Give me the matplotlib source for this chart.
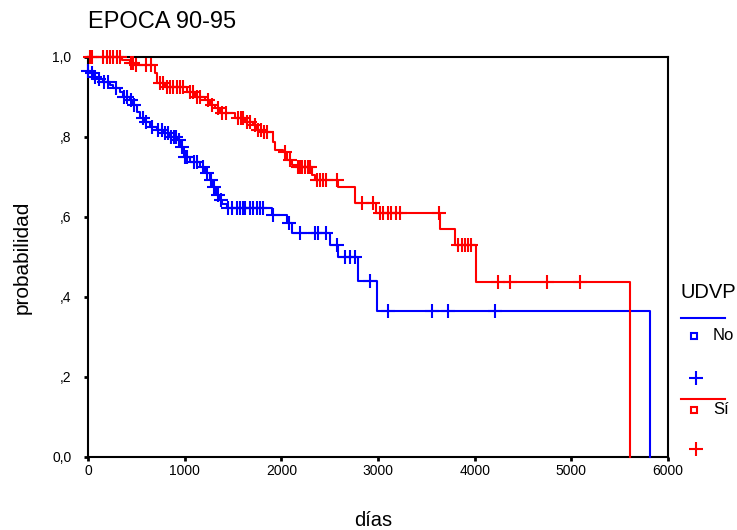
import numpy as np
import matplotlib
matplotlib.use("Agg")
import matplotlib.pyplot as plt
from matplotlib.lines import Line2D

plt.rcParams['font.family'] = ['Liberation Sans', 'DejaVu Sans']

# --- datos (Kaplan-Meier, UDVP) ---
# No (azul): tiempos de evento y supervivencia tras cada escalon
no_t = [0, 21, 52, 93, 155, 228, 259, 331, 362, 434, 466, 507, 538, 590, 641,
        714, 776, 848, 921, 952, 993, 1055, 1159, 1210, 1262, 1293, 1324, 1355,
        1386, 1438, 1903, 2059, 2110, 2503, 2586, 2793, 2990, 5814]
no_s = [0.965, 0.96, 0.95, 0.945, 0.9375, 0.93, 0.9225, 0.9125, 0.90, 0.8925,
        0.88, 0.8625, 0.8475, 0.8375, 0.825, 0.8175, 0.81, 0.80, 0.7925, 0.775,
        0.75, 0.7375, 0.725, 0.71, 0.6925, 0.675, 0.655, 0.6425, 0.6325, 0.6225,
        0.605, 0.585, 0.56, 0.53, 0.50, 0.44, 0.365, 0.0]
no_cens = [0, 41, 72, 114, 166, 207, 290, 372, 403, 445, 476, 569, 600, 662,
           724, 766, 797, 828, 859, 890, 910, 941, 972, 1003, 1024, 1097, 1128,
           1190, 1231, 1272, 1303, 1345, 1376, 1448, 1490, 1541, 1572, 1603,
           1624, 1676, 1707, 1748, 1779, 1810, 1914, 2079, 2193, 2348, 2379,
           2462, 2576, 2659, 2710, 2762, 2917, 3103, 3559, 3724, 4210]

# Sí (rojo)
si_t = [0, 352, 434, 476, 693, 714, 797, 1024, 1107, 1210, 1262, 1314, 1365,
        1521, 1624, 1707, 1748, 1800, 1914, 1935, 2017, 2059, 2110, 2162, 2317,
        2348, 2586, 2762, 2979, 3641, 3797, 4014, 5607]
si_s = [1.0, 0.9925, 0.985, 0.98, 0.96, 0.935, 0.925, 0.9125, 0.90, 0.8925,
        0.88, 0.8725, 0.86, 0.8475, 0.8375, 0.83, 0.8175, 0.8125, 0.7875,
        0.7675, 0.7625, 0.7425, 0.73, 0.725, 0.705, 0.6925, 0.675, 0.635, 0.61,
        0.57, 0.53, 0.4375, 0.0]
si_cens = [21, 41, 155, 197, 228, 259, 300, 331, 445, 466, 497, 600, 652, 745,
           776, 817, 848, 880, 921, 952, 983, 1055, 1086, 1128, 1159, 1241,
           1283, 1345, 1386, 1428, 1552, 1583, 1603, 1645, 1676, 1728, 1759,
           1790, 1821, 1852, 2038, 2090, 2172, 2193, 2214, 2245, 2276, 2297,
           2369, 2400, 2431, 2462, 2576, 2834, 2948, 3021, 3052, 3103, 3134,
           3186, 3228, 3631, 3828, 3869, 3900, 3931, 3962, 4241, 4366, 4748,
           5090]

xticks = [0, 1000, 2000, 3000, 4000, 5000, 6000]
yticks = [0.0, 0.2, 0.4, 0.6, 0.8, 1.0]
ytick_labels = ['0,0', ',2', ',4', ',6', ',8', '1,0']

BLUE = '#0000ff'
RED = '#ff0000'


def surv_at(times, surv, ct):
    idx = np.searchsorted(times, ct, side='right') - 1
    return np.array(surv)[idx]


fig = plt.figure(figsize=(7.37, 5.30), dpi=100)
ax = fig.add_axes([88 / 737, 1 - 457 / 530, 580 / 737, 400 / 530])

for t, s, c, col in [(no_t, no_s, no_cens, BLUE), (si_t, si_s, si_cens, RED)]:
    ax.step(t, s, where='post', color=col, lw=1.5, clip_on=False, zorder=3)
    ax.plot(c, surv_at(t, s, c), '+', color=col, ms=10, mew=1.5,
            clip_on=False, zorder=4)

ax.set_xlim(0, 6000)
ax.set_ylim(0, 1)
ax.set_xticks(xticks)
ax.set_yticks(yticks)
ax.set_yticklabels(ytick_labels)
ax.tick_params(direction='out', length=3, width=2, labelsize=10)
ax.tick_params(axis='x', pad=2)
ax.tick_params(axis='y', pad=9)
for sp in ax.spines.values():
    sp.set_linewidth(1.5)

ax.set_ylabel('probabilidad', fontsize=15, labelpad=15)
fig.text(373 / 737, 1 - 520 / 530, 'días', fontsize=14.5, ha='center', va='center')
fig.text(88 / 737, 1 - 22 / 530, 'EPOCA 90-95', fontsize=17, ha='left', va='center')

# leyenda manual
fig.text(681 / 737, 1 - 293 / 530, 'UDVP', fontsize=14.5, ha='left', va='center')
for y_line, y_sq, y_plus, col, lab in [(318, 336, 378, BLUE, 'No'),
                                        (399, 410, 449, RED, 'Sí')]:
    fig.add_artist(Line2D([681 / 737, 725 / 737], [1 - y_line / 530] * 2,
                          color=col, lw=1.5))
    fig.add_artist(Line2D([694 / 737], [1 - y_sq / 530], marker='s', ms=5,
                          mfc='none', mec=col, mew=1.5))
    fig.add_artist(Line2D([696 / 737], [1 - y_plus / 530], marker='+', ms=10,
                          color=col, mew=1.5))
    fig.text(713 / 737, 1 - y_sq / 530, lab, fontsize=12, ha='left', va='center')

fig.savefig('out.png', dpi=100)
